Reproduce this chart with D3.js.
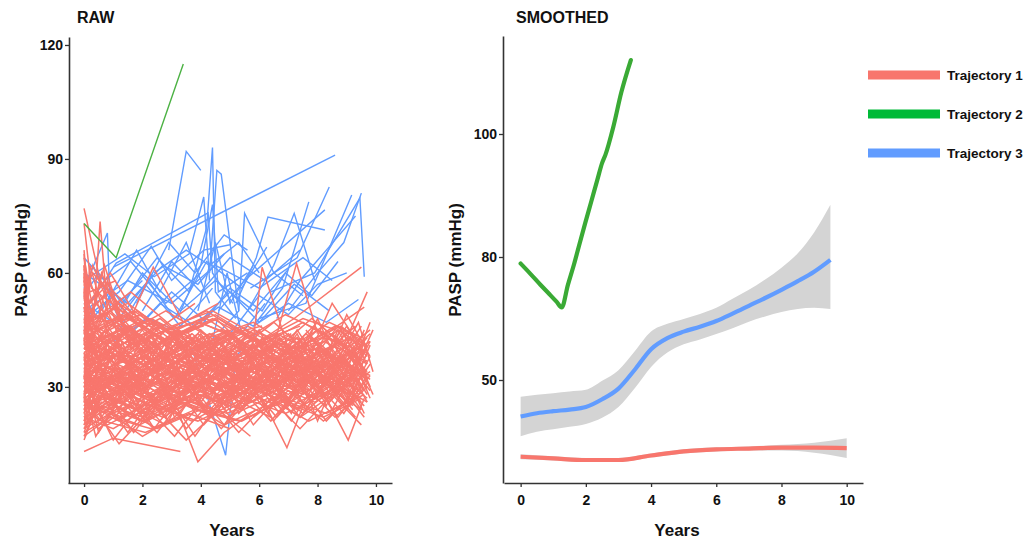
<!DOCTYPE html>
<html>
<head>
<meta charset="utf-8">
<script src="https://cdn.jsdelivr.net/npm/d3@7"></script>
<style>
body { margin: 0; background: #fff; }
text { font-family: "Liberation Sans", Arial, sans-serif; font-weight: bold; fill: #111; }
</style>
</head>
<body>
<script>
/*------------ données ------------*/

// RAW : une trajectoire = [annee, PASP, annee, PASP, ...]
const rawTraj1 = [
  [0,31, 0.9,27, 2.1,35, 3.4,30, 4.6,38, 6.0,33, 7.2,41, 8.5,29, 9.6,35],
  [0,42, 1.1,36, 2.4,44, 3.9,33, 5.1,40, 6.6,35, 8.0,45, 9.4,38],
  [0,24, 0.3,30, 1.6,22, 3.0,28, 4.4,24, 5.9,31, 7.1,26, 8.6,34, 9.7,27],
  [0,55, 0.2,38, 1.5,45, 2.8,37, 4.2,42, 5.5,36, 7.0,44, 8.3,33, 9.5,40],
  [0,28, 1.3,33, 2.6,26, 3.8,35, 5.2,29, 6.4,38, 7.7,31, 9.0,39, 9.8,30],
  [0,36, 1.0,40, 2.2,31, 3.6,39, 4.9,34, 6.2,28, 7.5,37, 8.8,42, 9.7,34],
  [0,20, 0.8,26, 2.0,21, 3.3,27, 4.7,23, 6.1,29, 7.4,22, 8.9,30, 9.6,25],
  [0,47, 0.4,52, 1.7,41, 3.1,46, 4.5,37, 5.8,43, 7.3,36, 8.7,45, 9.5,41],
  [0,33, 1.5,37, 2.9,30, 4.0,36, 5.4,32, 6.7,40, 8.1,34, 9.3,44],
  [0,26, 0.6,21, 1.9,29, 3.2,24, 4.8,31, 6.3,26, 7.6,33, 9.1,28, 9.8,36],
  [0,39, 1.2,44, 2.7,35, 4.3,41, 5.7,30, 7.0,38, 8.4,32, 9.6,42],
  [0,30, 0.5,25, 1.8,33, 3.5,28, 5.0,35, 6.5,30, 8.0,37, 9.4,31],
  [0,45, 1.4,38, 2.5,47, 3.7,40, 5.3,45, 6.8,37, 8.2,43, 9.7,39],
  [0,22, 1.0,19, 2.3,25, 3.9,21, 5.5,27, 6.9,23, 8.5,29, 9.5,24],
  [0,37, 0.7,31, 2.0,38, 3.3,34, 4.6,30, 6.0,36, 7.3,30, 8.6,38, 9.7,32],
  [0,29, 1.6,35, 3.0,31, 4.1,37, 5.6,33, 7.0,28, 8.3,36, 9.2,30],
  [0,51, 0.3,44, 1.3,49, 2.9,42, 4.4,48, 6.1,41, 7.5,47, 9.0,40, 9.8,45],
  [0,25, 1.1,30, 2.5,24, 4.0,29, 5.2,25, 6.6,32, 7.9,27, 9.3,33],
  [0,34, 0.9,39, 2.2,33, 3.6,38, 5.0,32, 6.4,37, 7.8,34, 9.5,29],
  [0,40, 1.7,34, 3.1,41, 4.7,36, 6.2,42, 7.6,37, 9.1,43, 9.7,38],
  [0,19, 0.5,24, 1.9,20, 3.4,26, 4.9,22, 6.3,27, 7.7,21, 9.0,26],
  [0,58, 0.2,46, 1.2,52, 2.6,44, 4.2,50, 5.6,43, 7.1,39, 8.6,46, 9.6,42],
  [0,32, 1.3,26, 2.8,34, 4.3,28, 5.8,35, 7.2,30, 8.5,38, 9.8,33],
  [0,27, 1.0,32, 2.4,28, 3.8,34, 5.1,27, 6.7,34, 8.0,29, 9.4,35],
  [0,43, 0.8,37, 2.1,42, 3.5,36, 4.8,43, 6.4,34, 7.9,40, 9.2,35],
  [0,35, 1.5,30, 2.9,37, 4.5,32, 6.0,39, 7.4,33, 8.8,40, 9.7,36],
  [0,23, 0.4,28, 1.8,24, 3.2,30, 4.6,26, 6.1,33, 7.5,28, 8.9,35, 9.6,29],
  [0,48, 1.2,42, 2.6,48, 4.0,39, 5.5,45, 7.0,40, 8.4,47, 9.5,43],
  [0,31, 0.6,36, 2.0,29, 3.7,35, 5.3,30, 6.8,36, 8.2,31, 9.7,37],
  [0,38, 1.4,33, 3.0,39, 4.4,34, 5.9,41, 7.3,35, 8.7,41, 9.4,36],
  [0,21, 1.1,25, 2.5,19, 4.0,24, 5.4,21, 6.9,27, 8.3,23, 9.6,28],
  [0,44, 0.9,50, 2.3,40, 3.8,46, 5.2,38, 6.6,44, 8.1,38, 9.3,46],
  [0,30, 1.6,34, 3.1,27, 4.6,33, 6.2,29, 7.7,35, 9.0,30, 9.8,34],
  [0,36, 0.5,41, 1.9,35, 3.4,40, 4.9,36, 6.5,41, 7.8,35, 9.2,39],
  [0,26, 1.3,22, 2.7,28, 4.2,23, 5.7,30, 7.1,25, 8.6,31, 9.7,26],
  [0,53, 0.3,47, 1.6,48, 3.0,45, 4.5,49, 6.0,42, 7.5,48, 9.0,44],
  [0,33, 1.0,29, 2.4,36, 3.9,31, 5.4,37, 6.9,32, 8.4,39, 9.5,33],
  [0,28, 0.8,33, 2.2,27, 3.6,32, 5.1,28, 6.6,35, 8.0,30, 9.4,34],
  [0,41, 1.5,46, 2.9,38, 4.3,44, 5.8,38, 7.2,43, 8.7,37, 9.8,42],
  [0,24, 0.7,28, 2.0,23, 3.5,29, 5.0,25, 6.4,31, 7.9,26, 9.3,32],
  [0,62, 0.2,50, 1.4,44, 2.8,50, 4.3,43, 5.8,47, 7.2,40, 8.8,46, 9.6,41],
  [0,35, 1.2,39, 2.7,33, 4.1,38, 5.6,34, 7.0,39, 8.4,35, 9.7,40],
  [0,18, 0.9,22, 2.3,19, 3.8,24, 5.3,21, 6.8,26, 8.2,22, 9.5,27],
  [0,46, 1.3,40, 2.8,45, 4.2,41, 5.6,46, 7.1,40, 8.5,44, 9.3,38],
  [5.6,40, 7.2,48, 9.5,61.5],
  [0,29, 1.7,33, 3.3,28, 4.8,34, 6.3,30, 7.8,36, 9.1,25, 9.7,31],
  [0,39, 0.6,34, 2.1,40, 3.6,35, 5.1,41, 6.7,36, 8.2,42, 9.6,37],
  [0,32, 1.4,28, 2.9,34, 4.4,29, 5.9,35, 7.4,31, 8.9,37, 9.8,32],
  [0,27, 1.0,31, 2.6,26, 4.1,32, 5.5,28, 7.0,34, 8.1,30, 9.05,16, 9.6,27],
  [0,43, 1.1,47, 2.5,41, 4.0,47, 5.4,42, 6.9,49, 8.3,44, 9.6,51],
  [0,30, 1.1,35, 2.4,29, 3.7,34, 5.0,28, 6.2,33],
  [0,37, 0.8,32, 2.0,38, 3.3,31, 4.6,37, 5.9,32, 7.1,38],
  [0,22, 1.3,27, 2.7,22, 4.0,28, 5.4,24],
  [0,49, 0.5,42, 1.8,47, 3.2,40, 4.7,45, 6.1,39],
  [0,33, 1.2,28, 2.6,35, 3.9,30, 5.3,36, 6.6,31, 7.9,37],
  [0,26, 0.9,31, 2.2,25, 3.6,31, 4.9,27],
  [0,41, 1.5,36, 3.0,42, 4.4,36, 5.7,41, 7.0,35],
  [0,20, 0.6,25, 2.0,21, 3.5,26, 4.8,20, 6.2,25],
  [0,35, 1.0,40, 2.4,34, 3.8,39, 5.2,33, 6.5,38, 7.8,32],
  [0,57, 0.3,48, 1.5,52, 2.9,44, 4.3,49],
  [0,29, 1.4,24, 2.8,30, 4.2,25, 5.6,31, 7.0,27, 8.0,33],
  [0,45, 0.7,39, 2.1,44, 3.4,38, 4.8,44, 6.3,37],
  [0,31, 1.6,36, 3.0,30, 4.5,35, 5.9,29],
  [0,38, 1.2,34, 2.5,40, 3.9,35, 5.4,42, 6.8,36, 7.5,41],
  [0,24, 0.8,20, 2.3,26, 3.7,21, 5.1,27, 6.4,22],
  [0,52, 0.4,45, 1.7,50, 3.1,43, 4.6,48, 6.0,42, 7.4,46],
  [0,34, 1.3,30, 2.7,36, 4.1,31, 5.5,37],
  [0,28, 1.0,33, 2.5,27, 3.9,33, 5.3,28, 6.7,34],
  [0,42, 1.5,37, 2.9,43, 4.3,38, 5.8,45, 7.2,39],
  [0,17, 0.7,21, 2.1,18, 3.6,23, 5.0,19],
  [0,36, 1.1,41, 2.5,35, 3.9,41, 5.2,35, 6.6,40],
  [0,30, 0.5,34, 1.9,29, 3.3,35, 4.8,30, 6.1,36, 7.6,31],
  [0,47, 1.2,41, 2.6,46, 4.0,40, 5.4,45],
  [0,25, 1.4,30, 2.8,24, 4.3,30, 5.7,26, 7.1,31],
  [0,39, 0.9,44, 2.3,37, 3.7,42, 5.1,37, 6.5,43, 7.8,38],
  [0,33, 1.6,28, 3.0,33, 4.4,27, 5.9,33],
  [0,21, 0.6,26, 2.0,22, 3.4,27, 4.9,23, 6.3,28, 7.7,24],
  [0,44, 1.3,49, 2.7,42, 4.2,48, 5.6,41],
  [0,27, 1.0,23, 2.4,29, 3.8,24, 5.2,30, 6.6,25],
  [0,36, 1.7,31, 3.2,37, 4.6,32, 6.0,38, 7.3,33],
  [3.3,22, 3.9,10.3, 4.8,18, 5.9,24],
  [0,13, 1.0,16.5, 3.3,13],
  [6.1,27, 6.95,14, 7.5,25, 8.4,30],
  [5.6,30, 6.1,61.5, 7.0,40, 8.2,35],
  [6.4,38, 7.28,62.5, 8.0,44],
  [0,77, 0.55,58, 1.6,48, 2.9,42],
  [0,40, 0.3,45, 0.55,73.5, 0.8,50, 1.9,43],
  [1.6,48, 2.37,61.5, 3.4,47, 4.6,52],
  [0,73, 0.25,56, 1.3,50, 2.5,45, 3.8,52],
  [0,66, 0.15,52, 0.9,60, 2.0,46],
  [0,61, 0.4,48, 1.6,55, 3.0,46, 4.4,50, 5.8,44],
  [0,60, 0.1,42, 1.0,51, 2.2,40],
  [0,32, 0.9,37, 2.0,30],
  [0,26, 1.2,21, 2.3,27, 3.5,22],
  [0,43, 0.6,37, 1.8,44],
  [0,30, 1.4,34, 2.6,28, 3.9,33],
  [0,48, 0.8,55, 1.9,46],
  [0,23, 0.5,19, 1.5,25, 2.8,20],
  [0,37, 1.0,31, 2.2,38, 3.3,32],
  [0,55, 0.3,60, 1.4,50],
  [0,28, 0.7,33, 1.7,27],
  [0,40, 1.3,45, 2.5,38, 3.7,44],
  [0,19, 0.9,23, 2.0,17, 3.1,22],
  [0,34, 0.4,29, 1.6,35],
  [0,46, 1.1,51, 2.4,43],
  [0,25, 1.5,29, 2.9,24, 4.1,30],
  [0,50, 0.6,44, 1.9,49, 3.2,41],
  [0,31, 1.2,26, 2.1,33],
  [0,38, 0.8,42, 2.0,36, 3.4,41],
  [0,22, 1.0,27, 2.2,23],
  [0,64, 0.2,55, 1.1,58],
  [0,35, 1.4,39, 2.7,33],
  [0,44, 0.5,39, 1.5,46, 2.6,40],
  [0,27, 0.9,31, 2.3,25],
  [0,58, 0.2,52, 0.8,57, 1.7,49],
  [0,33, 1.1,38, 2.4,31, 3.6,37],
  [4.5,30, 5.8,36, 7.0,27, 8.1,38, 9.2,30, 9.8,41],
  [5.0,40, 6.3,33, 7.6,44, 8.8,35, 9.7,43],
  [4.8,25, 6.0,31, 7.3,24, 8.6,33, 9.5,26],
  [5.3,35, 6.6,42, 7.8,32, 9.0,46, 9.7,36],
  [6.0,28, 7.2,35, 8.4,26, 9.4,34],
  [5.5,45, 6.8,38, 8.0,47, 9.1,39, 9.8,44],
  [6.2,32, 7.5,23, 8.7,31, 9.6,22],
  [4.2,38, 5.6,29, 6.9,37, 8.3,28, 9.5,38],
  [6.6,40, 7.8,48, 8.9,41, 9.7,55],
  [7.0,30, 8.0,42, 9.2,33, 9.9,45],
  [5.8,22, 7.0,29, 8.2,21, 9.3,28],
  [6.4,36, 7.7,29, 8.9,38, 9.8,29],
  [7.4,33, 8.5,52, 9.6,39],
  [7.6,45, 8.6,36, 9.4,47, 9.9,34],
  [3.0,27, 4.4,33, 5.7,26, 7.0,32, 8.3,25],
  [2.5,36, 3.8,43, 5.1,35, 6.5,41, 7.9,34],
  [8.0,28, 8.9,44, 9.7,33],
  [6.8,42, 8.1,33, 9.0,49, 9.8,38],
  [0,21, 0.4,33, 1.2,24, 2.3,37, 3.1,22, 4.5,34, 5.3,23, 6.8,36, 7.6,24, 8.9,38, 9.7,28],
  [0,39, 0.3,27, 1.1,41, 2.0,28, 3.3,42, 4.2,27, 5.5,40, 6.3,29, 7.4,42, 8.5,27, 9.3,40],
  [0,16, 0.6,28, 1.5,18, 2.6,30, 3.5,19, 4.9,31, 5.8,20, 7.2,32, 8.3,21, 9.4,30],
  [0,48, 0.5,30, 1.4,46, 2.4,32, 3.2,45, 4.3,33, 5.1,44, 6.2,31, 7.3,44, 8.2,30, 9.1,43, 9.8,30],
  [0,27, 0.2,44, 1.0,26, 2.1,40, 3.0,25, 4.0,41, 4.9,27, 6.0,42, 7.0,26, 8.1,41, 9.0,27, 9.7,39],
  [0,35, 0.7,20, 1.7,34, 2.9,21, 3.8,36, 5.0,22, 6.1,35, 7.1,23, 8.0,36, 9.2,24],
  [0,56, 0.2,32, 1.0,44, 1.9,30, 3.1,43, 4.1,29, 5.2,42, 6.5,30, 7.7,42, 8.8,31, 9.6,45],
  [0,24, 0.9,38, 1.8,25, 2.8,39, 3.9,26, 5.0,38, 6.2,25, 7.3,37, 8.4,26, 9.5,36],
  [0,43, 0.4,25, 1.3,39, 2.2,24, 3.4,38, 4.7,26, 5.9,39, 7.0,27, 8.2,40, 9.4,28],
  [0,30, 0.6,44, 1.6,29, 2.7,42, 3.6,30, 4.6,43, 5.7,31, 6.7,43, 7.8,30, 8.7,45, 9.6,31],
  [0,19, 0.8,31, 1.9,21, 3.0,32, 4.1,20, 5.3,30, 6.4,21, 7.5,31, 8.6,22, 9.7,30],
  [0,51, 0.3,36, 1.2,46, 2.5,35, 3.5,45, 4.4,34, 5.6,44, 6.9,34, 7.9,46, 9.0,35],
  [0,33, 0.5,18, 1.5,30, 2.4,19, 3.6,31, 4.8,20, 5.9,32, 7.1,21, 8.1,33, 9.3,22],
  [0,45, 1.0,28, 2.0,43, 3.0,29, 4.0,43, 5.1,28, 6.1,43, 7.2,29, 8.3,44, 9.5,30],
  [0,26, 0.3,40, 1.4,27, 2.5,41, 3.7,28, 4.7,40, 5.8,29, 6.9,41, 8.0,28, 9.1,40, 9.8,27],
  [0,62, 0.1,40, 0.9,53, 1.8,38, 2.8,45, 3.9,36, 5.0,44],
  [0,37, 0.8,46, 1.7,36, 2.8,45, 3.8,37, 4.9,44, 6.0,36],
  [0,29, 0.4,17, 1.3,28, 2.5,18, 3.6,29, 4.7,19, 5.8,28],
  [0,54, 0.3,42, 0.8,58, 1.6,40, 2.7,46, 3.7,39],
  [0,41, 0.2,58, 0.9,42, 1.9,47, 2.9,41],
  [0,23, 0.5,36, 1.3,22, 2.2,35, 3.3,23, 4.4,36, 5.4,24, 6.5,35, 7.6,25],
  [0,47, 0.7,33, 1.8,44, 2.9,34, 4.0,45, 5.2,35, 6.3,43, 7.5,34, 8.6,45],
  [0,32, 0.2,49, 1.1,33, 2.3,43, 3.4,32, 4.6,42, 5.6,33],
  [0,20, 0.3,27, 1.0,16, 2.0,26, 3.1,17, 4.2,28, 5.3,18, 6.4,27, 7.4,19, 8.5,28, 9.5,20],
  [0,65, 0.15,45, 0.6,60, 1.5,43, 2.4,47],
  [0,36, 0.9,24, 2.1,38, 3.2,25, 4.3,39, 5.5,26, 6.6,38, 7.7,27, 8.8,39, 9.7,26],
  [0,28, 1.2,43, 2.2,29, 3.3,44, 4.5,30, 5.6,44, 6.7,29, 7.8,43, 9.0,30, 9.8,42],
  [0,42, 0.5,55, 1.4,40, 2.6,46, 3.7,39, 4.9,45, 6.0,38, 7.1,44],
  [0,17, 0.4,24, 1.2,15, 2.4,25, 3.5,16, 4.6,24, 5.7,17],
  [0,50, 0.6,38, 1.6,46, 2.7,37, 3.9,44, 5.0,36],
  [0,25, 0.7,35, 1.9,24, 3.1,34, 4.2,23, 5.4,33, 6.6,22, 7.8,32, 8.9,23, 9.7,33],
  [0,38, 0.3,22, 1.1,36, 2.2,21, 3.2,35, 4.4,22, 5.6,34, 6.7,23, 7.9,35, 9.0,24, 9.6,35],
  [0,59, 0.2,47, 0.7,62, 1.4,45, 2.3,48, 3.3,44],
  [0,31, 0.8,45, 1.9,31, 3.0,44, 4.1,32, 5.1,43, 6.2,31, 7.3,45, 8.4,32, 9.6,44],
  [0,22, 1.0,34, 2.1,21, 3.2,33, 4.3,22, 5.3,33, 6.5,21, 7.6,34, 8.7,22, 9.8,33],
  [0,46, 0.4,35, 1.5,45, 2.6,36, 3.7,44, 4.8,37, 5.9,43],
  [0,34, 0.6,43, 1.3,31, 2.3,44, 3.2,30, 4.2,43, 5.4,31, 6.5,42, 7.5,30, 8.6,41, 9.4,29],
  [0,53, 0.3,62, 1.1,47, 2.0,49, 3.0,44, 4.1,46],
  [0,27, 0.5,21, 1.6,33, 2.8,22, 3.9,34, 5.1,23, 6.2,33, 7.4,22, 8.5,34, 9.5,24],
  [0,40, 1.1,47, 2.1,39, 3.2,45, 4.3,40, 5.4,44, 6.6,39],
  [0,18, 0.6,30, 1.7,18, 2.8,29, 3.8,17, 4.9,29],
  [0,44, 0.2,62, 0.8,46, 1.8,50, 2.8,45, 3.9,47, 5.0,44, 6.1,46],
  [2.0,30, 3.1,44, 4.2,29, 5.3,42, 6.4,28, 7.5,43, 8.6,29, 9.7,41],
  [3.0,40, 4.1,24, 5.2,39, 6.3,23, 7.4,38, 8.5,24, 9.6,39],
  [4.0,35, 5.1,44, 6.2,34, 7.3,43, 8.4,33, 9.5,46],
  [1.5,36, 2.6,23, 3.7,37, 4.8,24, 5.9,38, 7.0,25, 8.1,37, 9.2,25],
  [2.2,45, 3.3,32, 4.4,44, 5.5,33, 6.6,44, 7.7,32, 8.8,45, 9.7,33],
  [6.0,41, 7.0,26, 8.0,40, 9.0,26, 9.8,38],
  [7.2,37, 8.0,21, 8.8,36, 9.6,23],
  [5.0,30, 6.0,45, 7.0,30, 8.0,48, 9.0,31, 9.8,47],
  [8.3,40, 9.0,28, 9.6,42],
  [6.5,25, 7.4,39, 8.3,25, 9.2,40, 9.9,28],
  [3.5,44, 4.5,48, 5.5,41, 6.5,47, 7.5,40],
  [1.0,35, 2.0,45, 3.0,34, 4.0,44, 5.0,33]
];

const rawTraj3 = [
  [2.9,66, 3.5,92, 4.0,87],
  [3.6,55, 4.2,72, 4.4,93, 4.5,55, 5.2,48],
  [4.3,60, 4.55,87, 4.7,86, 5.3,50],
  [1.0,61.5, 8.6,91],
  [5.7,56, 7.3,64, 8.4,82.6],
  [4.6,50, 5.5,58, 8.25,76.6],
  [6.0,48, 7.6,52, 9.17,80.5],
  [6.4,55, 7.9,60, 9.45,79.7, 9.6,59],
  [5.8,46, 6.8,56, 7.7,78.7],
  [5.6,50, 6.5,62, 7.2,75.7, 7.9,58],
  [4.7,45, 5.3,50, 5.5,75.7, 6.5,60, 7.5,54],
  [5.2,52, 5.9,64, 6.3,74.7, 8.25,71.3],
  [0.2,52, 1.1,62.6, 4.25,75.8, 4.4,60, 5.1,52],
  [0,56, 0.8,70.5, 0.9,50, 2.0,58],
  [3.7,40, 4.85,12, 5.2,38, 6.0,45],
  [0,64, 0.7,58, 1.6,63, 2.8,52, 4.0,60],
  [0,48, 1.2,55, 2.3,67, 3.0,58, 4.1,66, 5.0,67.4],
  [0,60, 1.5,52, 2.7,62, 3.9,57, 4.8,65],
  [0.6,50, 1.8,66, 2.6,55, 3.5,68, 4.3,52],
  [1.2,45, 2.2,58, 3.1,48, 4.2,63, 5.4,56, 6.26,66.8],
  [0,52, 1.0,47, 2.0,60, 3.3,50, 4.5,58, 5.8,50, 7.0,61],
  [2.0,50, 3.0,63, 4.0,55, 5.0,64, 6.2,58, 7.4,66],
  [0,58, 1.4,65, 2.4,59, 3.6,65, 4.1,80, 4.3,58],
  [3.2,48, 4.0,62, 4.4,78, 4.6,55, 5.6,60],
  [1.6,44, 2.6,52, 3.8,46, 5.0,55, 6.0,47, 7.2,57, 8.4,50],
  [6.6,48, 7.4,58, 8.3,66, 9.3,75],
  [7.0,50, 8.0,60, 8.9,68, 9.5,81],
  [0,45, 0.9,54, 1.9,46, 3.0,55, 4.2,47],
  [5.0,44, 6.0,54, 7.0,49, 8.0,57, 9.0,60],
  [0.3,62, 1.2,48, 2.1,57, 3.3,46, 4.4,56],
  [2.4,60, 3.5,66, 4.3,62, 5.3,68, 6.0,60],
  [0,50, 1.5,58, 3.0,52, 4.5,62, 6.0,56, 7.5,64, 8.5,58],
  [3.9,50, 4.5,68, 5.0,52, 5.8,62],
  [1.0,42, 2.2,48, 3.4,44, 4.6,51, 5.8,46, 7.0,52, 8.3,47, 9.4,53],
  [0,54, 0.5,60, 1.3,52, 2.5,64, 3.6,55],
  [4.0,46, 5.0,56, 6.1,50, 6.9,60, 7.8,54, 8.7,63],
  [1.8,52, 2.9,68, 3.8,60, 4.8,70, 5.6,66],
  [4.4,42, 4.9,60, 5.4,44, 6.2,52]
];

const rawTraj2 = [
  [0,73, 1.1,64, 3.4,115]
];

// SMOOTHED
const t1Years = [0, 1, 2, 3, 4, 5, 6, 7, 8, 9, 10];
const t1Fit   = [31.3, 30.9, 30.5, 30.5, 31.6, 32.6, 33.1, 33.3, 33.5, 33.5, 33.4];
const t1Lo    = [30.7, 30.4, 30.0, 30.0, 31.1, 32.1, 32.6, 32.8, 32.8, 32.3, 31.0];
const t1Hi    = [31.9, 31.4, 31.0, 31.0, 32.1, 33.1, 33.6, 33.8, 34.2, 34.7, 35.8];

const t2Years = [0, 0.3, 0.6, 0.9, 1.1, 1.26, 1.45, 1.64, 1.82, 1.98, 2.16, 2.35, 2.5, 2.6, 2.84, 3.09, 3.38];
const t2Fit   = [78.4, 75.9, 73.3, 70.8, 69.1, 67.7, 73.2, 78.3, 82.4, 85.5, 88.9, 92.5, 95.3, 96.6, 101.1, 106.8, 112.0];

const t3Years = [0, 0.5, 1, 1.5, 2, 2.5, 3, 3.5, 4, 4.5, 5, 5.5, 6, 6.5, 7, 7.5, 8, 8.5, 9, 9.5];
const t3Fit   = [41.1, 41.9, 42.4, 42.8, 43.4, 45.3, 47.9, 52.5, 57.5, 60.2, 61.8, 63.0, 64.4, 66.2, 68.1, 70.0, 72.0, 74.1, 76.4, 79.3];
const t3Lo    = [36.3, 37.4, 38.0, 38.6, 39.3, 40.8, 43.4, 48.0, 53.2, 56.7, 58.7, 59.9, 61.2, 62.6, 64.2, 65.5, 66.6, 67.3, 67.6, 67.3];
const t3Hi    = [45.9, 46.4, 46.8, 47.2, 47.6, 49.8, 52.4, 57.0, 61.8, 63.7, 64.9, 66.1, 67.6, 69.8, 72.0, 74.5, 77.4, 80.6, 84.0, 88.5];

const xTicks = [0, 2, 4, 6, 8, 10];
const rawYTicks = [30, 60, 90, 120];
const smoothYTicks = [50, 80, 100];
const legendLabels = ["Trajectory 1", "Trajectory 2", "Trajectory 3"];
const colors = ["#F8766D", "#00BA38", "#619CFF"];

/*------------ dessin ------------*/
const width = 1033, height = 544;
const svg = d3.select("body").append("svg")
    .attr("width", width)
    .attr("height", height);

const pairs = a => d3.range(0, a.length, 2).map(i => [a[i], a[i + 1]]);

function styleAxis(g) {
    g.select(".domain").attr("stroke", "#333").attr("stroke-width", 1.6);
    g.selectAll(".tick line").attr("stroke", "#333").attr("stroke-width", 1.3);
    g.selectAll(".tick text").attr("font-size", 14).attr("fill", "#111")
        .style("font-family", "'Liberation Sans', Arial, sans-serif").style("font-weight", "bold");
}

// ---- panneau RAW ----
var xRaw = d3.scaleLinear().domain([-0.55, 10.55]).range([68, 392]);
var yRaw = d3.scaleLinear().domain([4.7, 122.1]).range([483, 37]);
var lineRaw = d3.line().x(d => xRaw(d[0])).y(d => yRaw(d[1]));

var gRaw = svg.append("g");
// bleu d'abord : le rouge le recouvre dans la masse centrale
gRaw.selectAll(".t3").data(rawTraj3).enter().append("path")
    .attr("d", d => lineRaw(pairs(d)))
    .attr("fill", "none").attr("stroke", colors[2]).attr("stroke-width", 1.4);
gRaw.selectAll(".t1").data(rawTraj1).enter().append("path")
    .attr("d", d => lineRaw(pairs(d)))
    .attr("fill", "none").attr("stroke", colors[0]).attr("stroke-width", 1.5);
gRaw.selectAll(".t2").data(rawTraj2).enter().append("path")
    .attr("d", d => lineRaw(pairs(d)))
    .attr("fill", "none").attr("stroke", "#4CB244").attr("stroke-width", 1.4);

svg.append("g").attr("transform", "translate(0,483)")
    .call(d3.axisBottom(xRaw).tickValues(xTicks).tickSize(4).tickSizeOuter(0).tickPadding(8))
    .call(styleAxis);
svg.append("g").attr("transform", "translate(69,0)")
    .call(d3.axisLeft(yRaw).tickValues(rawYTicks).tickSize(4).tickSizeOuter(0).tickPadding(2))
    .call(styleAxis);

svg.append("text").attr("x", 77).attr("y", 23).attr("font-size", 16).text("RAW");
svg.append("text").attr("x", 232).attr("y", 536).attr("font-size", 17)
    .attr("text-anchor", "middle").text("Years");
svg.append("text").attr("transform", "translate(27,260) rotate(-90)")
    .attr("font-size", 17).attr("text-anchor", "middle").text("PASP (mmHg)");

// ---- panneau SMOOTHED ----
var xSm = d3.scaleLinear().domain([-0.51, 10.5]).range([504, 863]);
var ySm = d3.scaleLinear().domain([24.9, 50, 80, 100, 115.9]).range([483, 380, 257, 134, 36]);

function band(years, lo, hi) {
    return d3.area().curve(d3.curveMonotoneX)
        .x((d, i) => xSm(years[i]))
        .y0((d, i) => ySm(lo[i]))
        .y1((d, i) => ySm(hi[i]))(years);
}
function fit(years, vals) {
    return d3.line().curve(d3.curveMonotoneX)
        .x((d, i) => xSm(years[i]))
        .y((d, i) => ySm(vals[i]))(years);
}

var gSm = svg.append("g");
gSm.append("path").attr("d", band(t1Years, t1Lo, t1Hi)).attr("fill", "#d4d4d4");
gSm.append("path").attr("d", fit(t1Years, t1Fit)).attr("fill", "none")
    .attr("stroke", colors[0]).attr("stroke-width", 4.2);
gSm.append("path").attr("d", fit(t2Years, t2Fit)).attr("fill", "none")
    .attr("stroke", "#3AAA35").attr("stroke-width", 4.2).attr("stroke-linecap", "round");
gSm.append("path").attr("d", band(t3Years, t3Lo, t3Hi)).attr("fill", "#d4d4d4");
gSm.append("path").attr("d", fit(t3Years, t3Fit)).attr("fill", "none")
    .attr("stroke", colors[2]).attr("stroke-width", 4.2);

svg.append("g").attr("transform", "translate(0,483)")
    .call(d3.axisBottom(xSm).tickValues(xTicks).tickSize(4).tickSizeOuter(0).tickPadding(8))
    .call(styleAxis);
svg.append("g").attr("transform", "translate(503,0)")
    .call(d3.axisLeft(ySm).tickValues(smoothYTicks).tickSize(4).tickSizeOuter(0).tickPadding(2))
    .call(styleAxis);

svg.append("text").attr("x", 516).attr("y", 23).attr("font-size", 16).text("SMOOTHED");
svg.append("text").attr("x", 677).attr("y", 536).attr("font-size", 17)
    .attr("text-anchor", "middle").text("Years");
svg.append("text").attr("transform", "translate(461,260) rotate(-90)")
    .attr("font-size", 17).attr("text-anchor", "middle").text("PASP (mmHg)");

// ---- légende ----
var leg = svg.append("g").selectAll("g").data(legendLabels).enter().append("g")
    .attr("transform", (d, i) => "translate(868," + (75 + i * 39) + ")");
leg.append("line").attr("x1", 0).attr("x2", 72).attr("y1", 0).attr("y2", 0)
    .attr("stroke", (d, i) => colors[i]).attr("stroke-width", 9);
leg.append("text").attr("x", 79).attr("dy", "0.35em").attr("font-size", 13.5).text(d => d);
</script>
</body>
</html>
